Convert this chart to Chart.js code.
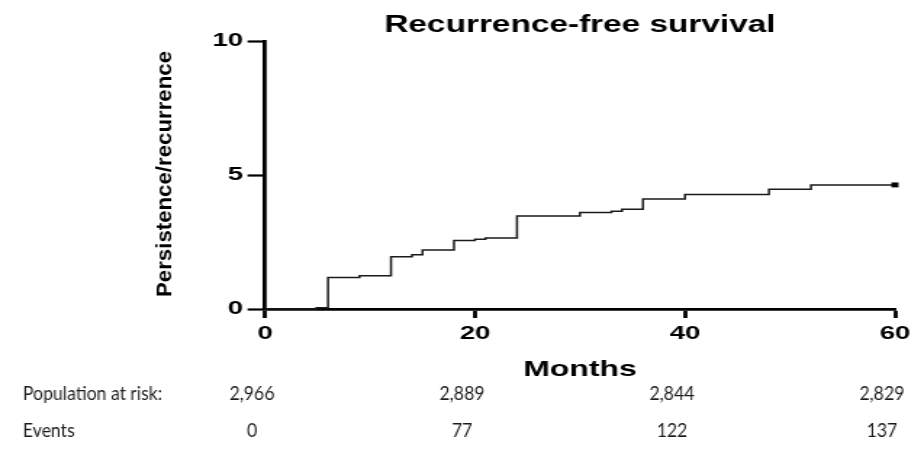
<!DOCTYPE html>
<html>
<head>
<meta charset="utf-8">
<script src="https://cdn.jsdelivr.net/npm/chart.js@4.4.1/dist/chart.umd.min.js"></script>
<style>
  html, body { margin: 0; padding: 0; background: #ffffff; overflow: hidden; }
  #wrap { position: absolute; left: 0; top: 0; width: 637px; height: 466px; transform: scaleX(1.4505); transform-origin: 0 0; }
  #c { width: 637px; height: 466px; display: block; }
</style>
</head>
<body>
<div id="wrap"><canvas id="c" width="637" height="466"></canvas></div>
<script>
// ---- data ----
const chartTitle = 'Recurrence-free survival';
const yAxisTitle = 'Persistence/recurrence';
const xAxisTitle = 'Months';
const months     = [0, 4.9, 6, 9, 12, 14, 15, 18, 20, 21, 24, 30, 33, 34, 36, 40, 48, 52, 60];
const recurrence = [0, 0.05, 1.18, 1.24, 1.95, 2.02, 2.2, 2.56, 2.6, 2.65, 3.47, 3.6, 3.65, 3.72, 4.1, 4.27, 4.47, 4.63, 4.63];
const xTicks = [0, 20, 40, 60];
const yTicks = [0, 5, 10];
const riskTimes = [0, 20, 40, 60];
const populationAtRisk = [2966, 2889, 2844, 2829];
const eventsCount = [0, 77, 122, 137];
const riskRowLabels = ['Population at risk:', 'Events'];

const S = 924 / 637; // horizontal stretch of the page

const points = months.map((m, i) => ({ x: m, y: recurrence[i] }));
const radii = months.map((m, i) => (i === months.length - 1 ? 3.5 : 0));

const extras = {
  id: 'extras',
  afterDraw(chart) {
    const ctx = chart.ctx;
    const ca = chart.chartArea;
    const xs = chart.scales.x;
    ctx.save();
    ctx.fillStyle = '#000';
    // title
    ctx.font = 'bold 23px "Liberation Sans", Arial, sans-serif';
    ctx.textAlign = 'center';
    ctx.textBaseline = 'alphabetic';
    ctx.fillText(chartTitle, (ca.left + ca.right) / 2, 32);
    // x title
    ctx.font = 'bold 22px "Liberation Sans", Arial, sans-serif';
    ctx.fillText(xAxisTitle, (ca.left + ca.right) / 2, 376);
    // y title (condensed along its length)
    ctx.save();
    ctx.translate(114, 174);
    ctx.rotate(-Math.PI / 2);
    ctx.font = 'bold 27px "Liberation Sans", Arial, sans-serif';
    const w = ctx.measureText(yAxisTitle).width;
    ctx.scale(246 / w, 0.57);
    ctx.textAlign = 'center';
    ctx.textBaseline = 'middle';
    ctx.fillText(yAxisTitle, 0, 0);
    ctx.restore();
    // risk table (not stretched)
    ctx.save();
    ctx.scale(1 / S, 1);
    ctx.fillStyle = '#1a1a1a';
    ctx.font = '19px Lato, "Open Sans", sans-serif';
    const lw = ctx.measureText(riskRowLabels[0]).width;
    const k = 139 / lw;
    ctx.textBaseline = 'middle';
    const drawT = (txt, x, y, align) => {
      ctx.save();
      ctx.translate(x, y);
      ctx.scale(k, 1);
      ctx.textAlign = align;
      ctx.fillText(txt, 0, 0);
      ctx.restore();
    };
    drawT(riskRowLabels[0], 23, 394, 'left');
    drawT(riskRowLabels[1], 23, 431, 'left');
    riskTimes.forEach((t, i) => {
      const px = xs.getPixelForValue(t) * S - 13;
      drawT(populationAtRisk[i].toLocaleString('en-US'), px, 394, 'center');
      drawT(String(eventsCount[i]), px, 431, 'center');
    });
    ctx.restore();
    ctx.restore();
  }
};

new Chart(document.getElementById('c'), {
  type: 'line',
  data: {
    datasets: [{
      data: points,
      stepped: 'before',
      borderColor: '#1a1a1a',
      borderWidth: 1.5,
      fill: false,
      pointRadius: radii,
      pointStyle: 'rect',
      pointBackgroundColor: '#000',
      pointBorderColor: '#000',
      pointBorderWidth: 0,
      clip: false
    }]
  },
  options: {
    responsive: false,
    animation: false,
    devicePixelRatio: 1,
    layout: { padding: { top: 41, right: 20, left: 0, bottom: 0 } },
    plugins: { legend: { display: false }, tooltip: { enabled: false }, title: { display: false } },
    scales: {
      x: {
        type: 'linear',
        min: 0, max: 60,
        afterFit(s) { s.height = 157; },
        afterBuildTicks(s) { s.ticks = xTicks.map(v => ({ value: v })); },
        border: { display: true, color: '#000', width: 2.8 },
        grid: { drawOnChartArea: false, drawTicks: true, tickLength: 9, tickWidth: 2.8, tickColor: '#000' },
        ticks: { color: '#000', padding: 4, font: { family: '"Liberation Sans", Arial, sans-serif', size: 19, weight: 'bold' } }
      },
      y: {
        type: 'linear',
        min: 0, max: 10,
        afterFit(s) { s.width = 265 / S; },
        afterBuildTicks(s) { s.ticks = yTicks.map(v => ({ value: v })); },
        border: { display: true, color: '#000', width: 2.8 },
        grid: { drawOnChartArea: false, drawTicks: true, tickLength: 12, tickWidth: 2.2, tickColor: '#000' },
        ticks: { color: '#000', padding: 3, font: { family: '"Liberation Sans", Arial, sans-serif', size: 19, weight: 'bold' } }
      }
    }
  },
  plugins: [extras]
});
</script>
</body>
</html>
